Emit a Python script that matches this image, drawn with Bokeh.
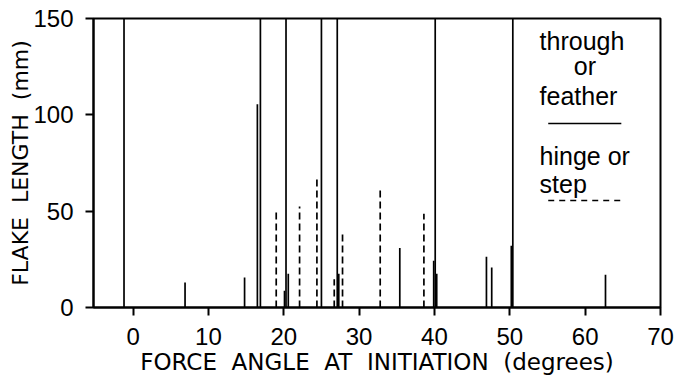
from bokeh.plotting import figure
from bokeh.models import FixedTicker, Range1d, Label
from bokeh.embed import file_html
from bokeh.resources import INLINE

# --- data ---
# through / feather terminations (solid lines): force angle (deg), flake length (mm)
solid_angle = [-1.2, 6.9, 14.8, 16.5, 16.9, 20.1, 20.3, 20.6, 25.0, 27.1, 27.3,
               35.4, 39.9, 40.1, 40.3, 46.9, 47.6, 50.2, 50.4, 62.7]
solid_length = [150, 13, 15.6, 105.5, 150, 8.7, 150, 17.5, 150, 150, 17.5,
                30.9, 24.3, 150, 17.5, 26.3, 20.8, 32.0, 150, 17]

# hinge / step terminations (dashed lines)
dashed_angle = [19.0, 22.1, 24.4, 26.7, 27.8, 32.8, 38.6]
dashed_length = [51.0, 52.4, 68.0, 14.7, 39.8, 62.8, 48.6]

x_ticks = [0, 10, 20, 30, 40, 50, 60, 70]
y_ticks = [0, 50, 100, 150]

NB = " \u00a0"  # wide word gap (kept by SVG)
x_title = NB.join(["FORCE", "ANGLE", "AT", "INITIATION", "(degrees)"])
y_title = NB.join(["FLAKE", "LENGTH", "(mm)"])
legend_solid_text = ["through", "or", "feather"]
legend_dashed_text = ["hinge or", "step"]

LABEL_FONT = "DejaVu Sans"
TICK_FONT = "Liberation Sans"
LEG_FONT = "Liberation Sans"

p = figure(width=674, height=384, output_backend="svg", toolbar_location=None,
           x_range=Range1d(-5.25, 70), y_range=Range1d(0, 150),
           min_border_left=93, min_border_right=14, min_border_top=18,
           min_border_bottom=77)

p.background_fill_color = "white"
p.border_fill_color = "white"
p.outline_line_color = "black"
p.outline_line_width = 2
p.xgrid.visible = False
p.ygrid.visible = False

# data marks
p.segment(x0=solid_angle, y0=[0] * len(solid_angle), x1=solid_angle, y1=solid_length,
          line_color="black", line_width=1.7)
p.segment(x0=dashed_angle, y0=[0] * len(dashed_angle), x1=dashed_angle, y1=dashed_length,
          line_color="black", line_width=1.7, line_dash="7 4")

# axes
for ax in (p.xaxis[0], p.yaxis[0]):
    ax.axis_line_width = 2
    ax.axis_line_color = "black"
    ax.major_tick_line_width = 2
    ax.major_tick_line_color = "black"
    ax.major_tick_out = 8
    ax.major_tick_in = 0
    ax.minor_tick_line_color = None
    ax.major_label_text_font = TICK_FONT
    ax.major_label_text_font_size = "24px"
    ax.major_label_text_color = "black"
    ax.axis_label_text_font = LABEL_FONT
    ax.axis_label_text_font_style = "normal"
    ax.axis_label_text_color = "black"

p.xaxis.axis_label_text_font_size = "23px"
p.yaxis.axis_label_text_font_size = "22px"
p.xaxis.ticker = FixedTicker(ticks=x_ticks)
p.yaxis.ticker = FixedTicker(ticks=y_ticks)
p.xaxis.major_label_standoff = 12
p.yaxis.major_label_standoff = 12
p.xaxis.axis_label = x_title
p.yaxis.axis_label = y_title
p.xaxis.axis_label_standoff = 1
p.yaxis.axis_label_standoff = -3

# legend (drawn as text + sample lines in the upper right)
leg_font_size = "25px"
solid_pos = [(53.95, 138.3), (58.5, 125.3), (53.95, 109.7)]
for txt, (lx, ly) in zip(legend_solid_text, solid_pos):
    p.add_layout(Label(x=lx, y=ly, text=txt, text_font=LEG_FONT,
                       text_font_size=leg_font_size, text_baseline="alphabetic",
                       text_color="black"))
dashed_pos = [(53.95, 78.6), (53.95, 64.1)]
for txt, (lx, ly) in zip(legend_dashed_text, dashed_pos):
    p.add_layout(Label(x=lx, y=ly, text=txt, text_font=LEG_FONT,
                       text_font_size=leg_font_size, text_baseline="alphabetic",
                       text_color="black"))
p.segment(x0=[55.1], y0=[95.5], x1=[64.8], y1=[95.5], line_color="black", line_width=1.6)
p.segment(x0=[55.1], y0=[55.5], x1=[64.8], y1=[55.5], line_color="black", line_width=1.6,
          line_dash="6 5")

open("out.html", "w").write(file_html(p, INLINE))
